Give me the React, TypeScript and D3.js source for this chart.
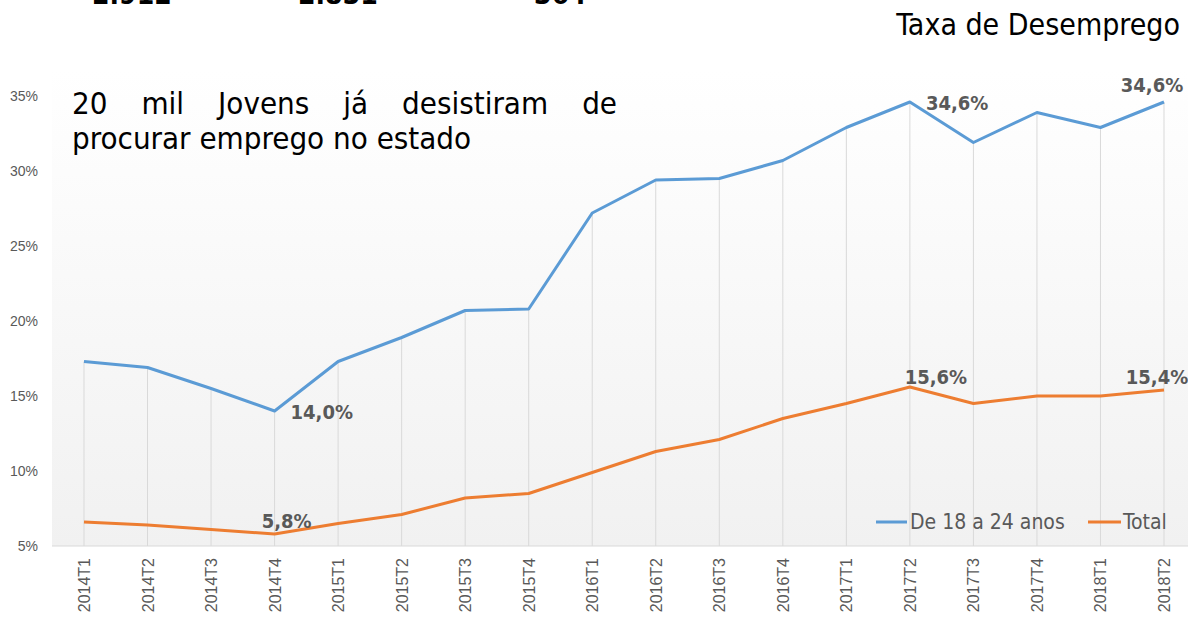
import React from 'react';
import * as d3 from 'd3';

const categories = [
  '2014T1', '2014T2', '2014T3', '2014T4',
  '2015T1', '2015T2', '2015T3', '2015T4',
  '2016T1', '2016T2', '2016T3', '2016T4',
  '2017T1', '2017T2', '2017T3', '2017T4',
  '2018T1', '2018T2',
];
const jovens = [17.3, 16.9, 15.5, 14.0, 17.3, 18.9, 20.7, 20.8, 27.2, 29.4, 29.5, 30.7, 32.9, 34.6, 31.9, 33.9, 32.9, 34.6];
const total = [6.6, 6.4, 6.1, 5.8, 6.5, 7.1, 8.2, 8.5, 9.9, 11.3, 12.1, 13.5, 14.5, 15.6, 14.5, 15.0, 15.0, 15.4];
const yTicks = [5, 10, 15, 20, 25, 30, 35];
const seriesNames = ['De 18 a 24 anos', 'Total'];
const topNumbers = ['2.912', '2.831', '364'];
const headline1 = ['20', 'mil', 'Jovens', 'já', 'desistiram', 'de'];
const headline2 = 'procurar emprego no estado';
const chartTitle = 'Taxa de Desemprego';
// which points carry a value label
const jovensLabelIdx = [3, 13, 17];
const totalLabelIdx = [3, 13, 17];

const W = 1188;
const H = 619;
const BLUE = '#5b9bd5';
const ORANGE = '#ed7d31';
const GREY_TXT = '#595959';
const FONT = "'DejaVu Sans Condensed', 'DejaVu Sans', sans-serif";

// label offsets (dx, dy, anchor) per point, tuned to the original
const jovensLabelPos: Record<number, [number, number, string]> = {
  3: [16, 8, 'start'],
  13: [16, 8, 'start'],
  17: [-12, -10, 'middle'],
};
const totalLabelPos: Record<number, [number, number, string]> = {
  3: [12, -6, 'middle'],
  13: [26, -3, 'middle'],
  17: [-7, -6, 'middle'],
};

const fmt = (v: number) => v.toFixed(1).replace('.', ',') + '%';

let ctx: CanvasRenderingContext2D | null = null;
const measure = (txt: string, font: string) => {
  if (!ctx) ctx = document.createElement('canvas').getContext('2d');
  if (!ctx) return txt.length * 14;
  ctx.font = font;
  return ctx.measureText(txt).width;
};

const App: React.FC = () => {
  const x = d3.scalePoint<string>().domain(categories).range([84, 1164]);
  const y = d3.scaleLinear().domain([5, 35]).range([546, 96]);

  const line = d3.line<number>()
    .x((_, i) => x(categories[i]) as number)
    .y((d) => y(d));

  // justified first headline line
  const hSize = 31;
  const hFont = `${hSize}px ${FONT}`;
  const left = 72;
  const right = 617;
  const widths = headline1.map((w) => measure(w, hFont));
  const gap = (right - left - d3.sum(widths)) / (headline1.length - 1);
  let cursor = left;
  const wordX = widths.map((w) => {
    const pos = cursor;
    cursor += w + gap;
    return pos;
  });

  return (
    <svg width={W} height={H} style={{ position: 'absolute', left: 0, top: 0, background: '#fff' }}
      fontFamily={FONT}>
      <defs>
        <linearGradient id="plotBg" x1="0" y1="0" x2="0" y2="1">
          <stop offset="0%" stopColor="#ffffff" />
          <stop offset="100%" stopColor="#f1f1f1" />
        </linearGradient>
      </defs>

      <rect x={52} y={70} width={W - 52} height={546 - 70} fill="url(#plotBg)" />

      {/* drop lines */}
      {categories.map((c, i) => (
        <line key={c} x1={x(c)} x2={x(c)} y1={y(Math.max(jovens[i], total[i]))} y2={y(5)}
          stroke="#d9d9d9" strokeWidth={1} />
      ))}
      <line x1={52} x2={W} y1={y(5)} y2={y(5)} stroke="#d9d9d9" strokeWidth={1.2} />

      {/* y axis labels */}
      {yTicks.map((t) => (
        <text key={t} x={38} y={y(t) + 5} textAnchor="end" fontSize={14}
          fontFamily="'Liberation Sans Narrow', 'Liberation Sans', sans-serif" fill={GREY_TXT}>{t}%</text>
      ))}

      {/* x axis labels */}
      {categories.map((c) => (
        <text key={c} transform={`translate(${(x(c) as number) + 6},${558}) rotate(-90)`} textAnchor="end"
          fontSize={16} fontFamily="'Liberation Sans', Arial, sans-serif" fill={GREY_TXT}>{c}</text>
      ))}

      {/* series */}
      <path d={line(jovens) || ''} fill="none" stroke={BLUE} strokeWidth={3} strokeLinejoin="round" />
      <path d={line(total) || ''} fill="none" stroke={ORANGE} strokeWidth={3} strokeLinejoin="round" />

      {/* value labels */}
      {jovensLabelIdx.map((i) => {
        const [dx, dy, anchor] = jovensLabelPos[i];
        return (
          <text key={'j' + i} x={(x(categories[i]) as number) + dx} y={y(jovens[i]) + dy} textAnchor={anchor}
            fontSize={20} fontWeight="bold" fill={GREY_TXT}>{fmt(jovens[i])}</text>
        );
      })}
      {totalLabelIdx.map((i) => {
        const [dx, dy, anchor] = totalLabelPos[i];
        return (
          <text key={'t' + i} x={(x(categories[i]) as number) + dx} y={y(total[i]) + dy} textAnchor={anchor}
            fontSize={20} fontWeight="bold" fill={GREY_TXT}>{fmt(total[i])}</text>
        );
      })}

      {/* legend */}
      <g fontSize={21} fill={GREY_TXT}>
        <line x1={876} x2={907} y1={522} y2={522} stroke={BLUE} strokeWidth={3} />
        <text x={910} y={529}>{seriesNames[0]}</text>
        <line x1={1088} x2={1121} y1={522} y2={522} stroke={ORANGE} strokeWidth={3} />
        <text x={1123} y={529}>{seriesNames[1]}</text>
      </g>

      {/* cut-off numbers at the very top */}
      <g fontSize={28} fontWeight="bold" fill="#000">
        <text x={92} y={4}>{topNumbers[0]}</text>
        <text x={298} y={4}>{topNumbers[1]}</text>
        <text x={534} y={4}>{topNumbers[2]}</text>
      </g>

      {/* title and headline */}
      <text x={1180} y={35} textAnchor="end" fontSize={30} fill="#000">{chartTitle}</text>
      <g fontSize={hSize} fill="#000">
        {headline1.map((w, i) => (
          <text key={w} x={wordX[i]} y={114}>{w}</text>
        ))}
        <text x={72} y={149}>{headline2}</text>
      </g>
    </svg>
  );
};

export default App;
